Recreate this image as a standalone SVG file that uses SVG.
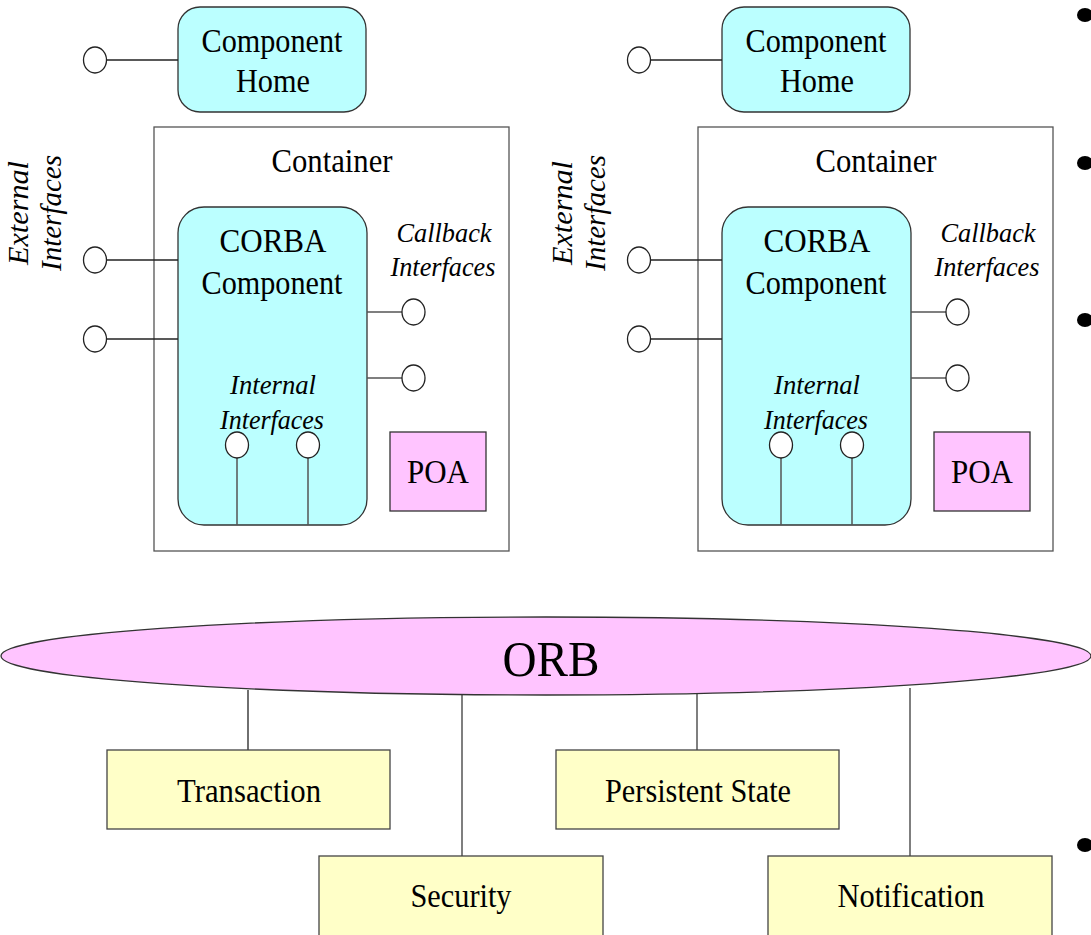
<svg xmlns="http://www.w3.org/2000/svg" width="1091" height="935" viewBox="0 0 1091 935">
<style>
.t{font-family:"Liberation Serif","Times New Roman",serif;font-size:34px;fill:#000;text-anchor:middle}
.i{font-family:"Liberation Serif","Times New Roman",serif;font-size:28px;font-style:italic;fill:#000;text-anchor:middle}
.cy{fill:#bbffff;stroke:#333;stroke-width:1.3}
.pk{fill:#ffc4ff;stroke:#333;stroke-width:1.3}
.yl{fill:#ffffc8;stroke:#444;stroke-width:1.3}
.ct{fill:none;stroke:#555;stroke-width:1.3}
.ln{stroke:#222;stroke-width:1.3;fill:none}
.lg{stroke:#555;stroke-width:1.5;fill:none}
.ifc{fill:#fff;stroke:#222;stroke-width:1.3}
</style>
<defs>
<g id="unit">
  <rect class="ct" x="154" y="127" width="355" height="424"/>
  <text class="t" x="332" y="172" textLength="121" lengthAdjust="spacingAndGlyphs">Container</text>
  <rect class="cy" x="178" y="7" width="188" height="105" rx="22" ry="22"/>
  <text class="t" x="272" y="52" textLength="141" lengthAdjust="spacingAndGlyphs">Component</text>
  <text class="t" x="273" y="92" textLength="74" lengthAdjust="spacingAndGlyphs">Home</text>
  <rect class="cy" x="178" y="207" width="189" height="318" rx="26" ry="26"/>
  <text class="t" x="273" y="252" textLength="107" lengthAdjust="spacingAndGlyphs">CORBA</text>
  <text class="t" x="272" y="294" textLength="141" lengthAdjust="spacingAndGlyphs">Component</text>
  <text class="i" x="273" y="394" textLength="86" lengthAdjust="spacingAndGlyphs">Internal</text>
  <text class="i" x="272" y="429" textLength="104" lengthAdjust="spacingAndGlyphs">Interfaces</text>
  <text class="i" x="444" y="242" textLength="95" lengthAdjust="spacingAndGlyphs">Callback</text>
  <text class="i" x="443" y="276" textLength="105" lengthAdjust="spacingAndGlyphs">Interfaces</text>
  <text class="i" transform="translate(28,213) rotate(-90)" x="0" y="0" style="font-size:30px" textLength="104" lengthAdjust="spacingAndGlyphs">External</text>
  <text class="i" transform="translate(61,213) rotate(-90)" x="0" y="0" style="font-size:30px" textLength="116" lengthAdjust="spacingAndGlyphs">Interfaces</text>
  <rect class="pk" x="390" y="432" width="96" height="79"/>
  <text class="t" x="438" y="483" textLength="62" lengthAdjust="spacingAndGlyphs">POA</text>
  <line class="ln" x1="107" y1="60" x2="178" y2="60"/>
  <line class="ln" x1="107" y1="260" x2="178" y2="260"/>
  <line class="ln" x1="107" y1="339" x2="178" y2="339"/>
  <line class="lg" x1="367" y1="312" x2="402" y2="312"/>
  <line class="lg" x1="367" y1="378" x2="402" y2="378"/>
  <line class="lg" x1="237" y1="458" x2="237" y2="525"/>
  <line class="lg" x1="308" y1="458" x2="308" y2="525"/>
  <ellipse class="ifc" cx="95" cy="60" rx="11.5" ry="13"/>
  <ellipse class="ifc" cx="95" cy="260" rx="11.5" ry="13"/>
  <ellipse class="ifc" cx="95" cy="339" rx="11.5" ry="13"/>
  <ellipse class="ifc" cx="413.5" cy="312" rx="11.5" ry="13"/>
  <ellipse class="ifc" cx="413.5" cy="378" rx="11.5" ry="13"/>
  <ellipse class="ifc" cx="237" cy="445" rx="11.5" ry="13"/>
  <ellipse class="ifc" cx="308" cy="445" rx="11.5" ry="13"/>
</g>
</defs>
<g id="connectors">
  <line class="ln" x1="248" y1="690" x2="248" y2="750"/>
  <line class="lg" x1="462" y1="694" x2="462" y2="856"/>
  <line class="lg" x1="697" y1="693" x2="697" y2="750"/>
  <line class="lg" x1="910" y1="688" x2="910" y2="856"/>
</g>
<g id="unit-left"><use href="#unit"/></g>
<g id="unit-right"><use href="#unit" transform="translate(544,0)"/></g>
<g id="orb">
  <ellipse class="pk" cx="546" cy="656" rx="545" ry="39"/>
  <text class="t" x="551" y="676" style="font-size:50px" textLength="97" lengthAdjust="spacingAndGlyphs">ORB</text>
</g>
<g id="transaction">
  <rect class="yl" x="107" y="750" width="283" height="79"/>
  <text class="t" x="249" y="802" textLength="144" lengthAdjust="spacingAndGlyphs">Transaction</text>
</g>
<g id="persistent">
  <rect class="yl" x="556" y="750" width="283" height="79"/>
  <text class="t" x="698" y="802" textLength="186" lengthAdjust="spacingAndGlyphs">Persistent State</text>
</g>
<g id="security">
  <rect class="yl" x="319" y="856" width="284" height="90"/>
  <text class="t" x="461" y="907" textLength="101" lengthAdjust="spacingAndGlyphs">Security</text>
</g>
<g id="notification">
  <rect class="yl" x="768" y="856" width="284" height="90"/>
  <text class="t" x="911" y="907" textLength="147" lengthAdjust="spacingAndGlyphs">Notification</text>
</g>
<g id="bullets" fill="#000">
  <ellipse cx="1085" cy="15" rx="8" ry="7"/>
  <ellipse cx="1085" cy="163" rx="8" ry="7"/>
  <ellipse cx="1085" cy="320" rx="8" ry="7"/>
  <ellipse cx="1085" cy="845" rx="8" ry="7"/>
</g>
</svg>
